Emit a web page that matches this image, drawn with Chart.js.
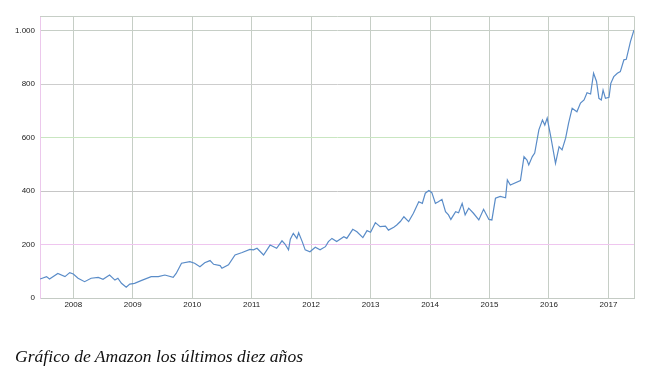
<!DOCTYPE html>
<html>
<head>
<meta charset="utf-8">
<script src="https://cdn.jsdelivr.net/npm/chart.js@4.4.1/dist/chart.umd.min.js"></script>
<style>
  html, body { margin: 0; padding: 0; background: #fff; }
  #wrap { position: relative; width: 655px; height: 376px; }
  #c { position: absolute; left: 0; top: 0; }
  #caption { position: absolute; left: 15px; top: 347px; font-family: "Liberation Serif", "Times New Roman", serif; font-style: italic; font-size: 17.6px; line-height: 18px; color: #111; white-space: nowrap; }
</style>
</head>
<body>
<div id="wrap">
  <canvas id="c" width="655" height="376"></canvas>
  <div id="caption">Gráfico de Amazon los últimos diez años</div>
</div>
<script>
// Time (decimal years) and Amazon share price (USD)
const dates = [
  2007.44, 2007.55, 2007.60, 2007.74, 2007.86, 2007.94, 2008.00, 2008.08, 2008.19, 2008.30,
  2008.42, 2008.50, 2008.61, 2008.70, 2008.75, 2008.81, 2008.89, 2008.95, 2009.03, 2009.14,
  2009.31, 2009.43, 2009.54, 2009.68, 2009.73, 2009.82, 2009.96, 2010.04, 2010.13, 2010.21,
  2010.30, 2010.36, 2010.47, 2010.50, 2010.61, 2010.72, 2010.84, 2010.97, 2011.03, 2011.09,
  2011.20, 2011.31, 2011.42, 2011.51, 2011.56, 2011.62, 2011.65, 2011.70, 2011.76, 2011.79,
  2011.85, 2011.90, 2011.98, 2012.07, 2012.15, 2012.24, 2012.29, 2012.35, 2012.43, 2012.55,
  2012.60, 2012.70, 2012.77, 2012.87, 2012.94, 2013.00, 2013.08, 2013.16, 2013.25, 2013.30,
  2013.39, 2013.44, 2013.50, 2013.56, 2013.64, 2013.72, 2013.81, 2013.87, 2013.92, 2013.98,
  2014.03, 2014.09, 2014.14, 2014.20, 2014.26, 2014.31, 2014.35, 2014.43, 2014.48, 2014.54,
  2014.59, 2014.65, 2014.73, 2014.82, 2014.90, 2014.99, 2015.04, 2015.10, 2015.18, 2015.27,
  2015.30, 2015.35, 2015.52, 2015.58, 2015.63, 2015.66, 2015.72, 2015.76, 2015.83, 2015.89,
  2015.93, 2015.97, 2016.03, 2016.05, 2016.11, 2016.17, 2016.22, 2016.28, 2016.33, 2016.39,
  2016.47, 2016.53, 2016.59, 2016.64, 2016.70, 2016.75, 2016.80, 2016.84, 2016.88, 2016.91,
  2016.95, 2017.01, 2017.04, 2017.09, 2017.15, 2017.20, 2017.26, 2017.30, 2017.37, 2017.43
];
const prices = [
  71, 80, 71, 92, 80, 95, 90, 74, 61, 74,
  77, 70, 86, 67, 74, 55, 40, 52, 55, 65,
  80, 80, 86, 77, 92, 130, 136, 130, 117, 132,
  140, 126, 121, 111, 124, 161, 170, 182, 180, 186,
  161, 198, 186, 214, 202, 180, 220, 242, 223, 244,
  211, 180, 173, 190, 180, 192, 211, 223, 211, 229,
  223, 257, 248, 226, 252, 246, 282, 267, 269, 254,
  265, 273, 286, 304, 286, 317, 360, 354, 392, 402,
  394, 354, 360, 369, 323, 311, 294, 323, 319, 354,
  311, 336, 317, 292, 332, 294, 292, 373, 380, 375,
  442, 423, 439, 529, 516, 498, 529, 542, 629, 666,
  647, 673, 604, 579, 504, 566, 554, 598, 654, 710,
  697, 729, 741, 768, 763, 841, 810, 747, 741, 778,
  747, 751, 803, 828, 841, 847, 891, 893, 959, 1003
];
const xMin = 2007.44, xMax = 2017.43;
const yMin = 0, yMax = 1055, yStep = 200;

const points = dates.map((d, i) => ({ x: d, y: prices[i] }));

const yGridColors = { 0: '#c4cbc4', 200: '#efc6ef', 400: '#c6c6c6', 600: '#c9e6c1', 800: '#cdcdcd', 1000: '#c6cec6' };

const framePlugin = {
  id: 'frame',
  afterDraw(chart) {
    const { ctx, chartArea: a } = chart;
    ctx.save();
    ctx.strokeStyle = '#c6cec6';
    ctx.lineWidth = 1;
    ctx.beginPath();
    ctx.moveTo(a.left, a.top + 0.5);
    ctx.lineTo(a.right + 0.5, a.top + 0.5);
    ctx.lineTo(a.right + 0.5, a.bottom);
    ctx.stroke();
    ctx.restore();
  }
};

new Chart(document.getElementById('c'), {
  type: 'line',
  data: {
    datasets: [{
      data: points,
      borderColor: '#5a8cc8',
      borderWidth: 1.2,
      pointRadius: 0,
      tension: 0,
      fill: false
    }]
  },
  options: {
    responsive: false,
    animation: false,
    layout: { padding: { left: 0, right: 21, top: 16, bottom: 58 } },
    plugins: { legend: { display: false }, tooltip: { enabled: false } },
    scales: {
      x: {
        type: 'linear',
        min: xMin,
        max: xMax,
        afterFit(s) { s.height = 20; },
        ticks: {
          stepSize: 1,
          includeBounds: false,
          padding: 2,
          maxRotation: 0,
          font: { family: 'Liberation Sans', size: 8 },
          color: '#222',
          callback: v => String(v)
        },
        grid: { color: '#c6cec6', drawTicks: false, lineWidth: 1 },
        border: { color: '#c4cbc4' }
      },
      y: {
        min: yMin,
        max: yMax,
        afterFit(s) { s.width = 40; },
        ticks: {
          stepSize: yStep,
          includeBounds: false,
          padding: 5,
          font: { family: 'Liberation Sans', size: 8 },
          color: '#222',
          callback: v => v >= 1000 ? (Math.floor(v / 1000) + '.' + String(v % 1000).padStart(3, '0')) : String(v)
        },
        grid: {
          drawTicks: false,
          lineWidth: 1,
          color: ctx => (ctx.tick && yGridColors[ctx.tick.value]) || '#c6cec6'
        },
        border: { color: '#ecc8ec' }
      }
    }
  },
  plugins: [framePlugin]
});
</script>
</body>
</html>
